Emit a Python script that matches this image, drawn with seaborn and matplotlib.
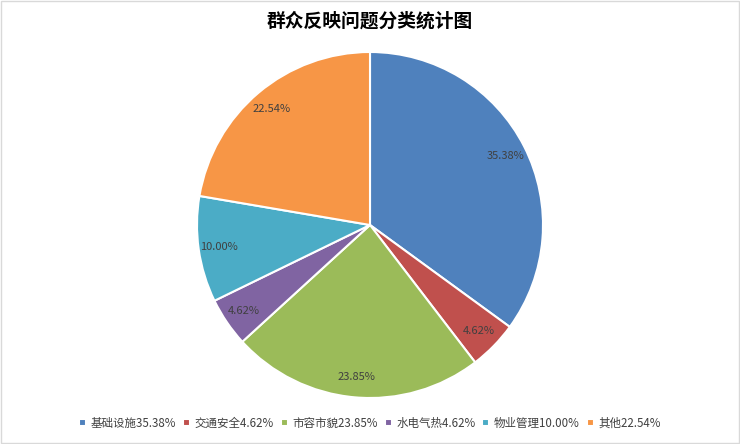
"""Pie chart: 群众反映问题分类统计图."""

import matplotlib
matplotlib.use("Agg")
import matplotlib.pyplot as plt
import seaborn as sns
from matplotlib.patches import Rectangle

CATEGORIES = ["基础设施", "交通安全", "市容市貌", "水电气热", "物业管理", "其他"]
SHARES = [35.38, 4.62, 23.85, 4.62, 10.00, 22.54]
COLORS = ["#4f81bd", "#c0504d", "#9bbb59", "#8064a2", "#4bacc6", "#f79646"]
TITLE = "群众反映问题分类统计图"

sns.set_theme(style="white")
plt.rcParams["font.family"] = ["Noto Sans CJK SC", "DejaVu Sans"]

fig = plt.figure(figsize=(7.4, 4.44), dpi=100)
ax = fig.add_axes([0.2662, 0.1036, 0.4676, 0.7793])

palette = sns.color_palette(COLORS)
wedges, _, autotexts = ax.pie(
    SHARES,
    colors=palette,
    startangle=90,
    counterclock=False,
    autopct="%.2f%%",
    pctdistance=0.88,
    wedgeprops={"edgecolor": "white", "linewidth": 1.5},
    textprops={"fontsize": 8, "color": "#404040"},
)
# the source percentages do not add to exactly 100, show them as given
for txt, v in zip(autotexts, SHARES):
    txt.set_text(f"{v:.2f}%")
ax.set_xlim(-1, 1)
ax.set_ylim(-1, 1)
ax.set_aspect("equal")

fig.text(0.5, 0.952, TITLE, ha="center", va="center", fontsize=13.5,
         fontweight="bold", color="black")

labels = [f"{c}{v:.2f}%" for c, v in zip(CATEGORIES, SHARES)]
fig.legend(
    wedges, labels,
    loc="center", bbox_to_anchor=(0.5, 0.047), ncol=6,
    frameon=False, fontsize=8.3, handlelength=0.6, handleheight=0.6,
    handletextpad=0.4, columnspacing=0.6,
    labelcolor="#404040",
)

fig.patches.append(Rectangle((0.002, 0.003), 0.996, 0.994, transform=fig.transFigure,
                             fill=False, edgecolor="#d9d9d9", linewidth=1))

fig.savefig("out.png", dpi=100)
